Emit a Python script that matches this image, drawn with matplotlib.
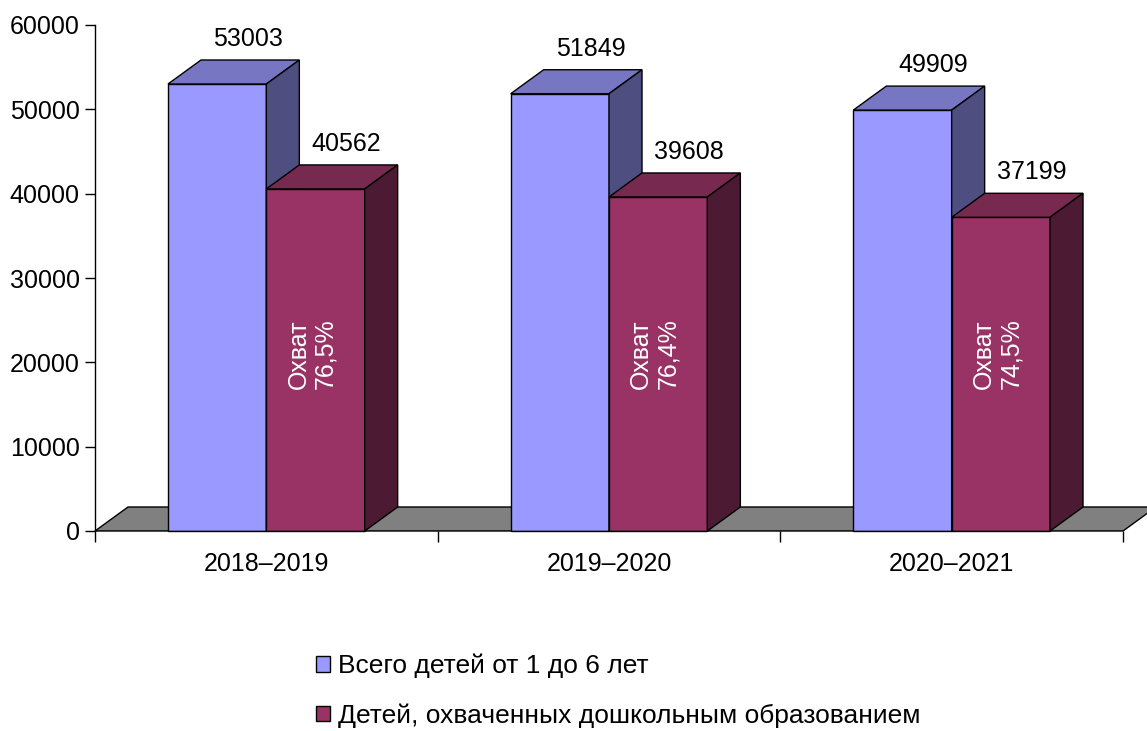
import matplotlib
matplotlib.use("Agg")
import matplotlib.pyplot as plt
from matplotlib.patches import Patch

categories = ["2018–2019", "2019–2020", "2020–2021"]
total_children = [53003, 51849, 49909]
covered_children = [40562, 39608, 37199]
coverage_labels = ["Охват\n76,5%", "Охват\n76,4%", "Охват\n74,5%"]
series_names = ["Всего детей от 1 до 6 лет", "Детей, охваченных дошкольным образованием"]
y_ticks = [0, 10000, 20000, 30000, 40000, 50000, 60000]

plt.rcParams['font.family'] = ['Liberation Sans', 'DejaVu Sans']
FS = 18

W, H = 1147, 731
fig = plt.figure(figsize=(W / 100, H / 100), dpi=100)
left_px, right_px, top_px, bot_px = 95, 1123, 25, 531
ax = fig.add_axes([left_px / W, 1 - bot_px / H, (right_px - left_px) / W, (bot_px - top_px) / H])
ax.set_xlim(0, 3)
ax.set_ylim(0, 60000)

# depth offset in data units
px_per_x = (right_px - left_px) / 3.0
px_per_y = (bot_px - top_px) / 60000.0
DX = 33 / px_per_x
DY = 24 / px_per_y

front_cols = ["#9999FF", "#993366"]
top_cols = ["#7676C2", "#77294F"]
side_cols = ["#4E4E80", "#4C1A33"]

# floor
ax.fill([0, 3, 3 + DX, DX], [0, 0, DY, DY], facecolor="#808080", edgecolor="black",
        lw=1, clip_on=False, zorder=1)

bw = 0.287
for i in range(3):
    c = i + 0.5
    for s, vals in enumerate([total_children, covered_children]):
        v = vals[i]
        x0 = c - bw if s == 0 else c
        x1 = x0 + bw
        z = 2 + i * 3 + s
        ax.fill([x0, x1, x1, x0], [0, 0, v, v], facecolor=front_cols[s], edgecolor="black",
                lw=1, clip_on=False, zorder=z)
        ax.fill([x0, x1, x1 + DX, x0 + DX], [v, v, v + DY, v + DY], facecolor=top_cols[s],
                edgecolor="black", lw=1, clip_on=False, zorder=z)
        ax.fill([x1, x1 + DX, x1 + DX, x1], [0, DY, v + DY, v], facecolor=side_cols[s],
                edgecolor="black", lw=1, clip_on=False, zorder=z)
        ax.text((x0 + x1) / 2 + 0.09, v + 45 / px_per_y, f"{v}", ha="center", va="center",
                fontsize=FS, zorder=20)
    ax.text(c + bw / 2 - 0.01, 21000, coverage_labels[i], rotation=90, ha="center", va="center",
            color="white", fontsize=FS, zorder=20, linespacing=1.15)

for sp in ["top", "right", "bottom"]:
    ax.spines[sp].set_visible(False)
ax.spines["left"].set_linewidth(1)
ax.axhline(0, color="black", lw=1, zorder=30)
ax.set_yticks(y_ticks)
ax.set_yticklabels([str(t) for t in y_ticks], fontsize=FS)
ax.tick_params(axis="y", direction="out", length=7, width=1, pad=4)
ax.set_xticks([0.5, 1.5, 2.5])
ax.set_xticklabels(categories, fontsize=FS)
ax.set_xticks([0, 1, 2, 3], minor=True)
ax.tick_params(axis="x", which="major", length=0, pad=15)
ax.tick_params(axis="x", which="minor", direction="out", length=8, width=1)
ax.patch.set_visible(False)

handles = [Patch(facecolor=front_cols[k], edgecolor="black", lw=1) for k in range(2)]
fig.legend(handles, series_names, loc="upper left", bbox_to_anchor=(316 / W, 1 - 654 / H),
           frameon=False, fontsize=19, handlelength=0.53, handleheight=0.53,
           handletextpad=0.3, labelspacing=0.95, borderaxespad=0, borderpad=0)

fig.savefig("out.png", dpi=100)
